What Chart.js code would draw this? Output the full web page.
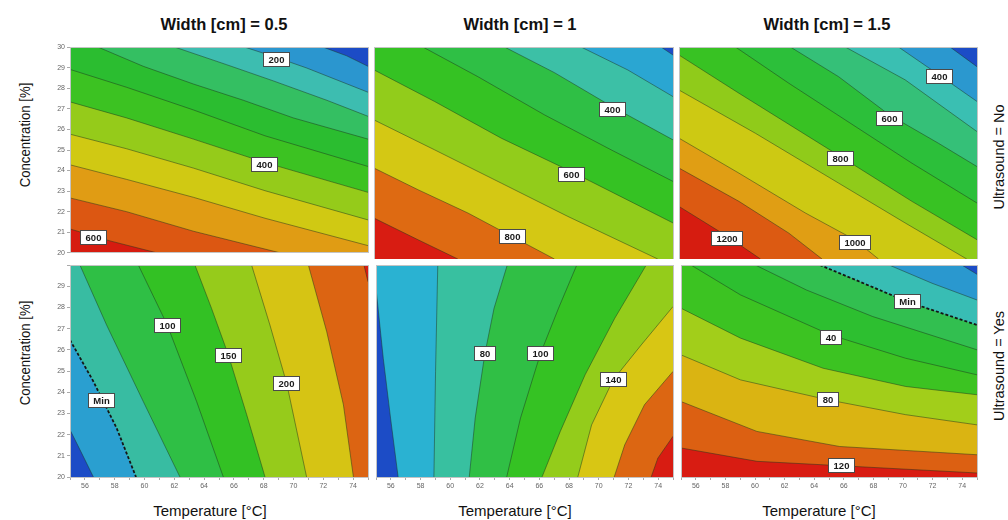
<!DOCTYPE html>
<html>
<head>
<meta charset="utf-8">
<script src="https://cdn.jsdelivr.net/npm/chart.js@4.4.1/dist/chart.umd.min.js"></script>
<style>
  html, body { margin: 0; padding: 0; background: #ffffff; }
  #root { position: relative; width: 1008px; height: 520px; overflow: hidden; font-family: "Liberation Sans", Arial, Helvetica, sans-serif; color: #111; }
  canvas { position: absolute; }
  .txt { position: absolute; white-space: nowrap; line-height: 1; }
</style>
</head>
<body>
<div id="root"></div>
<script>
// ---------------- data ----------------
const xRange = [55, 75];
const yRange = [20, 30];
const xTickLabels = [56, 58, 60, 62, 64, 66, 68, 70, 72, 74];
const yTickLabelsTop = [20, 21, 22, 23, 24, 25, 26, 27, 28, 29, 30];
const yTickLabelsBottom = [20, 21, 22, 23, 24, 25, 26, 27, 28, 29];
const colTitles = ["Width [cm] = 0.5", "Width [cm] = 1", "Width [cm] = 1.5"];
const rowTitles = ["Ultrasound = No", "Ultrasound = Yes"];
const xTitle = "Temperature [°C]";
const yTitle = "Concentration [%]";

// Panel 1: Width 0.5, Ultrasound No  (contours listed outward from the top-right corner)
const p1Levels = [150, 200, 250, 300, 350, 400, 450, 500, 550, 600];
const p1Lines = [
  [[72.0,30],[73.57,29.58],[75,29.07]],
  [[66.74,30],[68.87,29.5],[70.88,28.99],[75,27.81]],
  [[62.05,30],[65.51,29.15],[68.65,28.36],[72.23,27.42],[75,26.64]],
  [[56.9,30],[59.92,29.07],[63.28,28.21],[66.63,27.42],[69.99,26.56],[75,25.53]],
  [[55,28.92],[58.8,28.05],[63.28,26.95],[68.09,25.69],[75,24.2]],
  [[55,27.34],[58.8,26.56],[63.28,25.53],[68.09,24.39],[75,22.94]],
  [[55,25.77],[58.8,25.06],[63.28,24.12],[68.09,23.02],[75,21.6]],
  [[55,24.28],[58.8,23.57],[63.28,22.7],[68.09,21.68],[75,20.35]],
  [[55,22.67],[58.8,22.0],[63.28,21.05],[69.09,20]],
  [[55,21.16],[57.68,20.58],[60.82,20]]
];
const p1Colors = ['#1c4cc6','#2b96cf','#3dbdb0','#34bf62','#2bbd30','#3cc222','#95cb1a','#d0c913','#e09c14','#dc5712','#d61c10'];
const p1Labels = [{x:68.85,y:29.39,text:'200'},{x:68.04,y:24.28,text:'400'},{x:56.57,y:20.74,text:'600'}];

// Panel 2: Width 1, Ultrasound No
const p2Levels = [200, 300, 400, 500, 600, 700, 800, 900];
const p2Lines = [
  [[74.2,30],[75,29.62]],
  [[68.85,30],[71.97,28.92],[75,27.66]],
  [[63.73,30],[67.07,28.79],[70.92,27.19],[75,25.62]],
  [[58.27,30],[61.95,28.6],[66.4,26.8],[70.86,25.15],[75,23.66]],
  [[55,28.92],[59.05,27.43],[63.51,25.7],[68.18,24.13],[75,21.7]],
  [[55,26.56],[59.05,25.15],[63.51,23.58],[67.96,22.01],[73.98,20]],
  [[55,24.29],[57.94,23.27],[61.28,22.17],[64.29,21.04],[67.07,20]],
  [[55,21.93],[57.94,20.91],[60.61,20]]
];
const p2Colors = ['#1c4cc6','#2aa6d2','#3cc0a6','#2fbf45','#35c223','#92cc1b','#d4c814','#de6a12','#d81c12'];
const p2Labels = [{x:70.92,y:27.03,text:'400'},{x:68.18,y:24.0,text:'600'},{x:64.29,y:21.04,text:'800'}];

// Panel 3: Width 1.5, Ultrasound No
const p3Levels = [300, 400, 500, 600, 700, 800, 900, 1000, 1100, 1200];
const p3Lines = [
  [[73.19,30],[75,29.07]],
  [[69.73,30],[72.48,28.67],[75,27.43]],
  [[66.16,30],[70.18,28.45],[75,26.01]],
  [[62.48,30],[65.71,28.6],[69.11,26.8],[72.41,25.46],[75,24.36]],
  [[58.79,30],[62.37,28.29],[66.16,26.56],[70.63,24.52],[75,22.64]],
  [[55,29.62],[59.02,27.82],[65.83,24.84],[70.63,22.72],[75,20.91]],
  [[55,27.97],[60.13,25.93],[65.71,23.58],[70.18,21.7],[74.31,20]],
  [[55,25.7],[59.02,24.05],[63.48,22.17],[66.79,20.91],[68.39,20]],
  [[55,24.29],[59.02,22.72],[62.37,21.22],[64.6,20]],
  [[55,22.48],[58.24,21.07],[60.47,20]]
];
const p3Colors = ['#1c4cc6','#2b98cf','#3abfb2','#35c078','#2cbf3a','#38c223','#90cb1a','#cdc913','#e09e14','#dc5a12','#d61c10'];
const p3Labels = [{x:72.48,y:28.63,text:'400'},{x:69.11,y:26.62,text:'600'},{x:65.83,y:24.76,text:'800'},{x:66.79,y:20.8,text:'1000'},{x:58.24,y:20.99,text:'1200'}];

// Panel 4: Width 0.5, Ultrasound Yes (contours listed outward from the bottom-left corner)
const p4Levels = [0, 'Min', 50, 100, 150, 200, 250, 300];
const p4Lines = [
  [[55,22.23],[55.78,21.13],[56.57,20]],
  [[55,26.47],[56.57,24.51],[58.13,22.31],[59.43,20]],
  [[55.67,30],[57.46,27.17],[59.92,23.56],[62.38,20]],
  [[59.59,30],[61.53,27.17],[63.5,23.56],[65.29,20]],
  [[63.39,30],[64.5,27.96],[65.63,25.76],[66.86,22.94],[68.09,20]],
  [[67.19,30],[68.42,27.17],[69.54,24.43],[70.88,20]],
  [[71.0,30],[72.23,26.86],[73.35,23.41],[74.02,20]],
  [[74.73,30],[75,29.22]]
];
const p4Colors = ['#1c4cc6','#2a9fd0','#38bca2','#2fbf45','#33c124','#96cb1b','#d6c414','#dc6412','#d81c12'];
const p4Labels = [{x:61.53,y:27.17,text:'100'},{x:65.63,y:25.76,text:'150'},{x:69.54,y:24.43,text:'200'},{x:57.13,y:23.6,text:'Min'}];

// Panel 5: Width 1, Ultrasound Yes
const p5Levels = [40, 60, 80, 100, 120, 140, 160, 180];
const p5Lines = [
  [[55,28.9],[55.49,25.6],[55.98,22.78],[56.49,20]],
  [[59.16,30],[59.01,24.98],[58.9,20]],
  [[63.84,30],[62.95,27.96],[62.33,25.81],[61.68,22.78],[61.28,20]],
  [[68.52,30],[67.29,27.96],[66.07,25.81],[64.73,22.78],[63.8,20]],
  [[73.2,30],[71.08,27.49],[69.08,24.82],[67.41,22.15],[66.18,20]],
  [[75,28.04],[72.86,26.23],[70.97,24.58],[69.52,22.46],[68.59,20]],
  [[75,24.98],[73.08,23.41],[71.75,21.52],[71.04,20]],
  [[75,21.92],[73.98,20.89],[73.53,20]]
];
const p5Colors = ['#1c4cc6','#2ab2d2','#38c0a0','#30bf45','#35c223','#94cc1b','#d8c614','#dc6612','#d81c12'];
const p5Labels = [{x:62.33,y:25.81,text:'80'},{x:66.07,y:25.81,text:'100'},{x:70.97,y:24.58,text:'140'}];

// Panel 6: Width 1.5, Ultrasound Yes (outward from the top-right corner)
const p6Levels = [-20, 0, 'Min', 20, 40, 60, 80, 100, 120];
const p6Lines = [
  [[73.97,30],[75,29.56]],
  [[69.06,30],[71.96,29.14],[75,28.35]],
  [[64.38,30],[67.05,29.22],[70.29,28.27],[75,27.17]],
  [[60.02,30],[63.48,28.82],[67.95,27.57],[75,26.0]],
  [[55.67,30],[59.02,28.59],[65.11,26.7],[70.18,25.6],[75,24.82]],
  [[55,27.96],[59.02,26.55],[64.6,25.13],[70.18,24.27],[75,23.88]],
  [[55,25.76],[59.02,24.58],[64.93,23.64],[70.18,22.94],[75,22.46]],
  [[55,23.56],[60.13,22.15],[65.71,21.44],[75,21.05]],
  [[55,21.37],[60.13,20.74],[65.83,20.53],[75,20.19]]
];
const p6Colors = ['#1c4cc6','#2a98cf','#38bdb4','#32bf50','#2dbf30','#3cc322','#a2ce1a','#dab412','#dc6012','#d81c12'];
const p6Labels = [{x:70.29,y:28.27,text:'Min'},{x:65.11,y:26.59,text:'40'},{x:64.93,y:23.64,text:'80'},{x:65.83,y:20.53,text:'120'}];

// ---------------- helpers ----------------
const FONT = '"Liberation Sans", Arial, Helvetica, sans-serif';
const mod4 = v => ((v % 4) + 4) % 4;
const cornerPts = [[xRange[0],yRange[0]],[xRange[1],yRange[0]],[xRange[1],yRange[1]],[xRange[0],yRange[1]]];
const CORNER = { BL: 0, BR: 1, TR: 2, TL: 3 };

function perimT(p) {
  const [x, y] = p, e = 1e-6;
  const [x0, x1] = xRange, [y0, y1] = yRange;
  if (Math.abs(y - y0) < e) return (x - x0) / (x1 - x0);
  if (Math.abs(x - x1) < e) return 1 + (y - y0) / (y1 - y0);
  if (Math.abs(y - y1) < e) return 2 + (x1 - x) / (x1 - x0);
  return 3 + (y1 - y) / (y1 - y0);
}
function arcContains(tFrom, tTo, t) {
  const span = mod4(tTo - tFrom), d = mod4(t - tFrom);
  return d > 0 && d < span;
}
function arcCorners(tFrom, tTo) {
  const span = mod4(tTo - tFrom);
  return cornerPts.map((pt, i) => ({ d: mod4(i - tFrom), pt }))
    .filter(c => c.d > 0 && c.d < span)
    .sort((a, b) => a.d - b.d).map(c => c.pt);
}
// polygon of the part of the panel on the far side of a contour, seen from the base corner
function regionBeyond(line, baseCorner) {
  const s = perimT(line[0]), e = perimT(line[line.length - 1]);
  if (!arcContains(e, s, baseCorner)) return [...line, ...arcCorners(e, s)];
  return [...line.slice().reverse(), ...arcCorners(s, e)];
}
const toPt = p => ({ x: p[0], y: p[1] });

function labelPlugin(labels) {
  return {
    id: 'contourLabels',
    afterDatasetsDraw(chart) {
      const { ctx, scales: { x, y } } = chart;
      ctx.save();
      ctx.font = 'bold 9.5px ' + FONT;
      ctx.textAlign = 'center';
      ctx.textBaseline = 'middle';
      labels.forEach(l => {
        const px = x.getPixelForValue(l.x), py = y.getPixelForValue(l.y);
        const tw = ctx.measureText(l.text).width;
        const w = Math.round(Math.max(22, tw + 11)), h = 15;
        const left = Math.round(px - w / 2), top = Math.round(py - h / 2);
        ctx.fillStyle = '#ffffff';
        ctx.fillRect(left, top, w, h);
        ctx.strokeStyle = '#4a4a4a';
        ctx.lineWidth = 1;
        ctx.strokeRect(left + 0.5, top + 0.5, w - 1, h - 1);
        ctx.fillStyle = '#1a1a1a';
        ctx.fillText(l.text, left + w / 2, top + h / 2 + 0.5);
      });
      ctx.restore();
    }
  };
}

const root = document.getElementById('root');
const areaLeft = [70, 374, 679], areaW = [298, 299, 298];
const areaTop = [47, 265], areaH = 212;

function makePanel(idx, lines, levels, colors, labels, baseCorner) {
  const col = idx % 3, row = Math.floor(idx / 3);
  const padL = col === 0 ? 22 : 0, padB = row === 1 ? 20 : 0, padT = 6, padR = 6;
  const cv = document.createElement('canvas');
  const W = padL + areaW[col] + padR, H = padT + areaH + padB;
  cv.width = W; cv.height = H;
  cv.style.left = (areaLeft[col] - padL) + 'px';
  cv.style.top = (areaTop[row] - padT) + 'px';
  cv.style.width = W + 'px'; cv.style.height = H + 'px';
  root.appendChild(cv);

  const common = { pointRadius: 0, pointHoverRadius: 0, pointHitRadius: 0, tension: 0, clip: 0 };
  const datasets = [];
  datasets.push(Object.assign({ data: cornerPts.map(toPt), fill: 'shape', backgroundColor: colors[0], borderWidth: 0, order: 1000 }, common));
  lines.forEach((ln, k) => datasets.push(Object.assign({
    data: regionBeyond(ln, baseCorner).map(toPt), fill: 'shape', backgroundColor: colors[k + 1], borderWidth: 0, order: 999 - k
  }, common)));
  lines.forEach((ln, k) => {
    const isMin = levels[k] === 'Min';
    datasets.push(Object.assign({
      data: ln.map(toPt), fill: false,
      borderColor: isMin ? '#151515' : 'rgba(30,50,30,0.6)',
      borderWidth: isMin ? 1.8 : 0.8,
      borderDash: isMin ? [3, 2] : [],
      order: 0
    }, common));
  });

  const yLabels = row === 0 ? yTickLabelsTop : yTickLabelsBottom;
  const borderCol = '#c4c4c4';
  new Chart(cv, {
    type: 'line',
    data: { datasets },
    options: {
      responsive: false, animation: false, events: [],
      layout: { padding: { top: padT, right: padR, left: 0, bottom: 0 } },
      plugins: { legend: { display: false }, tooltip: { enabled: false }, title: { display: false } },
      scales: {
        x: {
          type: 'linear', position: 'bottom', min: xRange[0], max: xRange[1],
          afterFit: s => { s.height = padB; },
          ticks: {
            display: row === 1, stepSize: 1, autoSkip: false, maxRotation: 0, padding: 2,
            color: '#666', font: { size: 7, family: FONT },
            callback: v => xTickLabels.includes(v) ? String(v) : ''
          },
          grid: { display: row === 1, drawOnChartArea: false, tickLength: 3, color: '#aaaaaa' },
          border: { display: true, color: borderCol, z: 1 }
        },
        y: {
          type: 'linear', position: 'left', min: yRange[0], max: yRange[1],
          afterFit: s => { s.width = padL; },
          ticks: {
            display: col === 0, stepSize: 1, autoSkip: false, padding: 2,
            color: '#666', font: { size: 7, family: FONT },
            callback: v => yLabels.includes(v) ? String(v) : ''
          },
          grid: { display: col === 0, drawOnChartArea: false, tickLength: 3, color: '#aaaaaa' },
          border: { display: true, color: borderCol, z: 1 }
        },
        xTop: {
          type: 'linear', position: 'top', min: 0, max: 1, afterFit: s => { s.height = 0; },
          ticks: { display: false }, grid: { display: false }, border: { display: true, color: borderCol, z: 1 }
        },
        yRight: {
          type: 'linear', position: 'right', min: 0, max: 1, afterFit: s => { s.width = 0; },
          ticks: { display: false }, grid: { display: false }, border: { display: true, color: borderCol, z: 1 }
        }
      }
    },
    plugins: [labelPlugin(labels)]
  });
}

makePanel(0, p1Lines, p1Levels, p1Colors, p1Labels, CORNER.TR);
makePanel(1, p2Lines, p2Levels, p2Colors, p2Labels, CORNER.TR);
makePanel(2, p3Lines, p3Levels, p3Colors, p3Labels, CORNER.TR);
makePanel(3, p4Lines, p4Levels, p4Colors, p4Labels, CORNER.BL);
makePanel(4, p5Lines, p5Levels, p5Colors, p5Labels, CORNER.BL);
makePanel(5, p6Lines, p6Levels, p6Colors, p6Labels, CORNER.TR);

// ---------------- text ----------------
function addText(text, cx, cy, css, rotate, sx) {
  const d = document.createElement('div');
  d.className = 'txt';
  d.textContent = text;
  Object.assign(d.style, css);
  d.style.left = cx + 'px';
  d.style.top = cy + 'px';
  d.style.transform = 'translate(-50%,-50%)' + (rotate ? ' rotate(-90deg)' : '') + (sx ? ' scale(' + sx + ',1)' : '');
  root.appendChild(d);
}
const colTitleX = [224, 520, 827];
colTitles.forEach((t, i) => addText(t, colTitleX[i], 24, { fontWeight: 'bold', fontSize: '16.5px' }));
const xTitleX = [210, 515, 819];
xTitleX.forEach(cx => addText(xTitle, cx, 510, { fontSize: '15px' }));
[135, 353].forEach(cy => addText(yTitle, 25, cy, { fontSize: '14px' }, true, 0.94));
[157, 366].forEach((cy, i) => addText(rowTitles[i], 999, cy, { fontSize: '14.5px' }, true));
</script>
</body>
</html>
